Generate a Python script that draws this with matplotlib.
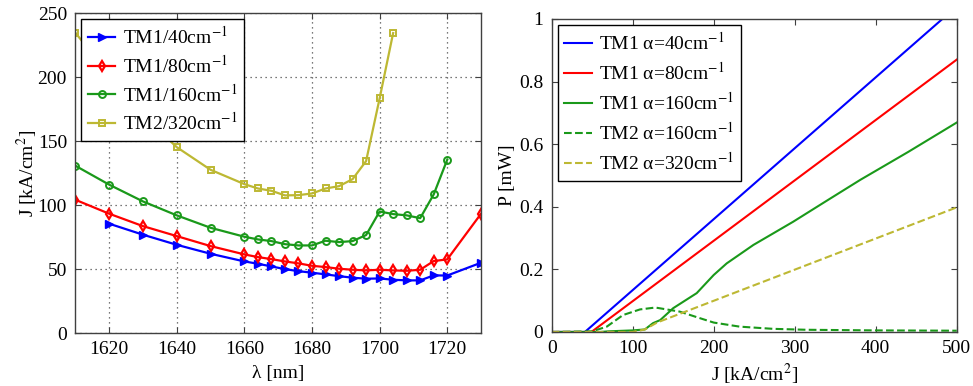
import matplotlib
matplotlib.use("Agg")
import matplotlib.pyplot as plt
from matplotlib.ticker import FuncFormatter

plt.rcParams["font.family"] = ["Liberation Serif", "DejaVu Serif"]
plt.rcParams["mathtext.fontset"] = "stix"
plt.rcParams["font.size"] = 14

# --- Left panel: threshold current vs wavelength ---
lam_tm1_40 = [1620, 1630, 1640, 1650, 1660, 1664, 1668, 1672, 1676, 1680, 1684,
              1688, 1692, 1696, 1700, 1704, 1708, 1712, 1716, 1720, 1730]
j_tm1_40 = [85.5, 76.9, 69.0, 62.0, 56.0, 54.2, 52.1, 50.0, 48.4, 47.2, 45.9,
            44.5, 43.3, 42.5, 42.7, 41.7, 41.2, 41.2, 45.1, 45.0, 55.0]

lam_tm1_80 = [1610, 1620, 1630, 1640, 1650, 1660, 1664, 1668, 1672, 1676, 1680,
              1684, 1688, 1692, 1696, 1700, 1704, 1708, 1712, 1716, 1720, 1730]
j_tm1_80 = [104.2, 93.3, 83.6, 75.8, 68.0, 61.5, 59.4, 57.8, 56.0, 54.5, 52.6,
            51.6, 50.3, 49.5, 49.0, 49.5, 49.0, 48.7, 49.5, 56.3, 57.6, 93.3]

lam_tm1_160 = [1610, 1620, 1630, 1640, 1650, 1660, 1664, 1668, 1672, 1676, 1680,
               1684, 1688, 1692, 1696, 1700, 1704, 1708, 1712, 1716, 1720]
j_tm1_160 = [130.8, 116.0, 102.9, 92.0, 82.3, 75.3, 73.2, 71.9, 69.5, 68.5, 68.5,
             72.2, 71.1, 71.9, 76.6, 95.0, 93.0, 92.0, 89.8, 108.4, 135.5]

lam_tm2_320 = [1610, 1620, 1630, 1640, 1650, 1660, 1664, 1668, 1672, 1676, 1680,
               1684, 1688, 1692, 1696, 1700, 1704]
j_tm2_320 = [234.7, 202.0, 170.0, 145.3, 127.6, 116.4, 113.0, 111.2, 107.6, 107.8,
             109.1, 113.0, 114.8, 120.3, 134.4, 183.4, 234.4]

# --- Right panel: output power vs current density ---
J_tm1_40 = [0, 41, 500]
P_tm1_40 = [0, 0, 1.04]

J_tm1_80 = [0, 49, 500]
P_tm1_80 = [0, 0, 0.87]

J_tm1_160 = [0, 60, 70, 100, 115, 125, 134, 150, 179, 200, 216, 249, 298, 340,
             381, 440, 500]
P_tm1_160 = [0, 0, 0.002, 0.005, 0.008, 0.028, 0.038, 0.076, 0.124, 0.182, 0.219,
             0.278, 0.352, 0.42, 0.486, 0.575, 0.669]

J_tm2_160 = [0, 50, 68, 88, 109, 128, 158, 183, 200, 232, 273, 314, 400, 500]
P_tm2_160 = [0, 0.002, 0.017, 0.054, 0.072, 0.078, 0.065, 0.044, 0.030, 0.017,
             0.010, 0.007, 0.005, 0.004]

J_tm2_320 = [0, 100, 115, 130, 300, 500]
P_tm2_320 = [0, 0, 0.008, 0.03, 0.199, 0.398]

BLUE = (0, 0, 1)
RED = (1, 0, 0)
GREEN = (0.1, 0.6, 0.1)
OLIVE = (0.74, 0.72, 0.2)
SPINE = (0.25, 0.25, 0.25)

fig = plt.figure(figsize=(9.73, 3.86), dpi=100)
ax1 = fig.add_axes([0.0774, 0.137, 0.417, 0.829])
ax2 = fig.add_axes([0.567, 0.140, 0.4163, 0.811])


def style_axes(ax):
    for sp in ax.spines.values():
        sp.set_color(SPINE)
        sp.set_linewidth(1.0)
    ax.tick_params(direction="in", top=True, right=True, length=4,
                   color=SPINE, labelsize=14, pad=6)


def boxed_legend(ax, spacing):
    leg = ax.legend(loc="upper left", fontsize=14, frameon=True, fancybox=False,
                    framealpha=1.0, borderaxespad=0.3, handlelength=1.4,
                    handletextpad=0.4, labelspacing=spacing, borderpad=0.35)
    leg.get_frame().set_edgecolor("black")
    leg.get_frame().set_linewidth(1.0)
    return leg


ax1.plot(lam_tm1_40, j_tm1_40, "-", marker=">", color=BLUE, lw=1.6, ms=6,
         label="TM1/40cm$^{-1}$")
ax1.plot(lam_tm1_80, j_tm1_80, "-", marker="d", color=RED, lw=1.6, ms=5,
         mfc="none", mew=1.6, label="TM1/80cm$^{-1}$")
ax1.plot(lam_tm1_160, j_tm1_160, "-", marker="o", color=GREEN, lw=1.6, ms=5,
         mfc="none", mew=1.4, label="TM1/160cm$^{-1}$")
ax1.plot(lam_tm2_320, j_tm2_320, "-", marker="s", color=OLIVE, lw=1.6, ms=5,
         mfc="none", mew=1.4, label="TM2/320cm$^{-1}$")
ax1.set_xlim(1610, 1730)
ax1.set_ylim(0, 250)
ax1.set_xticks([1620, 1640, 1660, 1680, 1700, 1720])
ax1.set_yticks([0, 50, 100, 150, 200, 250])
ax1.grid(True, linestyle=(0, (1, 3)), color=(0.3, 0.3, 0.3), lw=0.9)
ax1.set_xlabel("λ [nm]", fontsize=14, labelpad=5)
ax1.set_ylabel("J [kA/cm$^2$]", fontsize=14, labelpad=-2)
style_axes(ax1)
boxed_legend(ax1, 0.35)

ax2.plot(J_tm1_40, P_tm1_40, "-", color=BLUE, lw=1.5, label="TM1 α=40cm$^{-1}$")
ax2.plot(J_tm1_80, P_tm1_80, "-", color=RED, lw=1.5, label="TM1 α=80cm$^{-1}$")
ax2.plot(J_tm1_160, P_tm1_160, "-", color=GREEN, lw=1.5,
         label="TM1 α=160cm$^{-1}$")
ax2.plot(J_tm2_160, P_tm2_160, "--", color=GREEN, lw=1.5,
         label="TM2 α=160cm$^{-1}$")
ax2.plot(J_tm2_320, P_tm2_320, "--", color=OLIVE, lw=1.5,
         label="TM2 α=320cm$^{-1}$")
ax2.set_xlim(0, 500)
ax2.set_ylim(0, 1)
ax2.set_xticks([0, 100, 200, 300, 400, 500])
ax2.set_yticks([0, 0.2, 0.4, 0.6, 0.8, 1.0])
ax2.yaxis.set_major_formatter(FuncFormatter(lambda v, p: f"{v:g}"))
ax2.set_xlabel("J [kA/cm$^2$]", fontsize=14, labelpad=3)
ax2.set_ylabel("P [mW]", fontsize=14, labelpad=2)
style_axes(ax2)
boxed_legend(ax2, 0.42)

fig.savefig("out.png", dpi=100)
